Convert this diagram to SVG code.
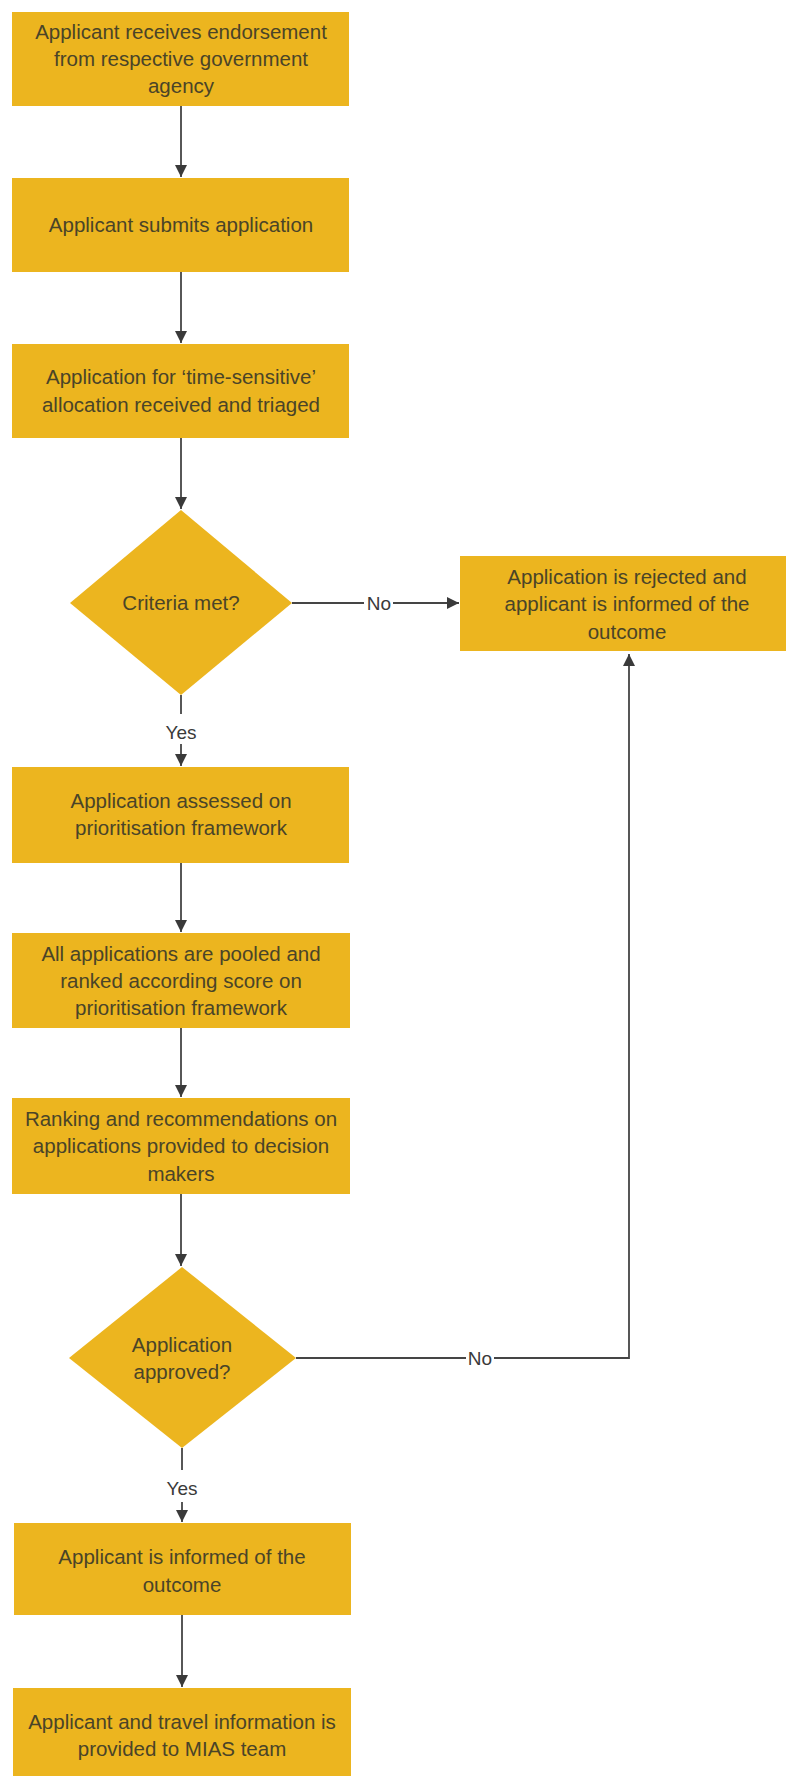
<svg xmlns="http://www.w3.org/2000/svg" width="786" height="1776" viewBox="0 0 786 1776">
<defs>
<style>
.n{fill:#ECB51F;}
.t{font-family:"Liberation Sans",Arial,sans-serif;font-size:20.5px;fill:#4A4428;text-anchor:middle;}
.l{font-family:"Liberation Sans",Arial,sans-serif;font-size:19px;fill:#3A3A3A;text-anchor:middle;}
.c{stroke:#454545;stroke-width:1.8;fill:none;}
</style>
<marker id="ah" markerWidth="12" markerHeight="12" refX="10" refY="5" orient="auto" markerUnits="userSpaceOnUse" viewBox="0 0 10 10">
<path d="M0,0 L10,5 L0,10 z" fill="#3A3A3A"/>
</marker>
</defs>
<rect width="786" height="1776" fill="#FFFFFF"/>
<g id="connectors">
<line class="c" x1="181" y1="106" x2="181" y2="177" marker-end="url(#ah)"/>
<line class="c" x1="181" y1="272" x2="181" y2="343" marker-end="url(#ah)"/>
<line class="c" x1="181" y1="438" x2="181" y2="509" marker-end="url(#ah)"/>
<line class="c" x1="292" y1="603" x2="364" y2="603"/>
<line class="c" x1="393" y1="603" x2="459" y2="603" marker-end="url(#ah)"/>
<line class="c" x1="181" y1="695" x2="181" y2="714"/>
<line class="c" x1="181" y1="744" x2="181" y2="766" marker-end="url(#ah)"/>
<line class="c" x1="181" y1="863" x2="181" y2="932" marker-end="url(#ah)"/>
<line class="c" x1="181" y1="1028" x2="181" y2="1097" marker-end="url(#ah)"/>
<line class="c" x1="181" y1="1194" x2="181" y2="1266" marker-end="url(#ah)"/>
<line class="c" x1="296" y1="1358" x2="466" y2="1358"/>
<polyline class="c" points="494,1358 629,1358 629,654" marker-end="url(#ah)"/>
<line class="c" x1="182" y1="1448" x2="182" y2="1470"/>
<line class="c" x1="182" y1="1502" x2="182" y2="1522" marker-end="url(#ah)"/>
<line class="c" x1="182" y1="1615" x2="182" y2="1687" marker-end="url(#ah)"/>
<text class="l" x="379" y="610">No</text>
<text class="l" x="181" y="739">Yes</text>
<text class="l" x="480" y="1365">No</text>
<text class="l" x="182" y="1495">Yes</text>
</g>
<g id="n1">
<rect class="n" x="12" y="12" width="337" height="94"/>
<text class="t" x="181" y="39">Applicant receives endorsement</text>
<text class="t" x="181" y="66">from respective government</text>
<text class="t" x="181" y="93">agency</text>
</g>
<g id="n2">
<rect class="n" x="12" y="178" width="337" height="94"/>
<text class="t" x="181" y="232">Applicant submits application</text>
</g>
<g id="n3">
<rect class="n" x="12" y="344" width="337" height="94"/>
<text class="t" x="181" y="384">Application for ‘time-sensitive’</text>
<text class="t" x="181" y="412">allocation received and triaged</text>
</g>
<g id="d1">
<polygon class="n" points="181,510 292,603 181,695 70,603"/>
<text class="t" x="181" y="610">Criteria met?</text>
</g>
<g id="n_reject">
<rect class="n" x="460" y="556" width="326" height="95"/>
<text class="t" x="627" y="584">Application is rejected and</text>
<text class="t" x="627" y="611">applicant is informed of the</text>
<text class="t" x="627" y="639">outcome</text>
</g>
<g id="n4">
<rect class="n" x="12" y="767" width="337" height="96"/>
<text class="t" x="181" y="808">Application assessed on</text>
<text class="t" x="181" y="835">prioritisation framework</text>
</g>
<g id="n5">
<rect class="n" x="12" y="933" width="338" height="95"/>
<text class="t" x="181" y="961">All applications are pooled and</text>
<text class="t" x="181" y="988">ranked according score on</text>
<text class="t" x="181" y="1015">prioritisation framework</text>
</g>
<g id="n6">
<rect class="n" x="12" y="1098" width="338" height="96"/>
<text class="t" x="181" y="1126">Ranking and recommendations on</text>
<text class="t" x="181" y="1153">applications provided to decision</text>
<text class="t" x="181" y="1181">makers</text>
</g>
<g id="d2">
<polygon class="n" points="182,1267 296,1358 182,1448 69,1358"/>
<text class="t" x="182" y="1352">Application</text>
<text class="t" x="182" y="1379">approved?</text>
</g>
<g id="n7">
<rect class="n" x="14" y="1523" width="337" height="92"/>
<text class="t" x="182" y="1564">Applicant is informed of the</text>
<text class="t" x="182" y="1592">outcome</text>
</g>
<g id="n8">
<rect class="n" x="13" y="1688" width="338" height="88"/>
<text class="t" x="182" y="1729">Applicant and travel information is</text>
<text class="t" x="182" y="1756">provided to MIAS team</text>
</g>
</svg>
